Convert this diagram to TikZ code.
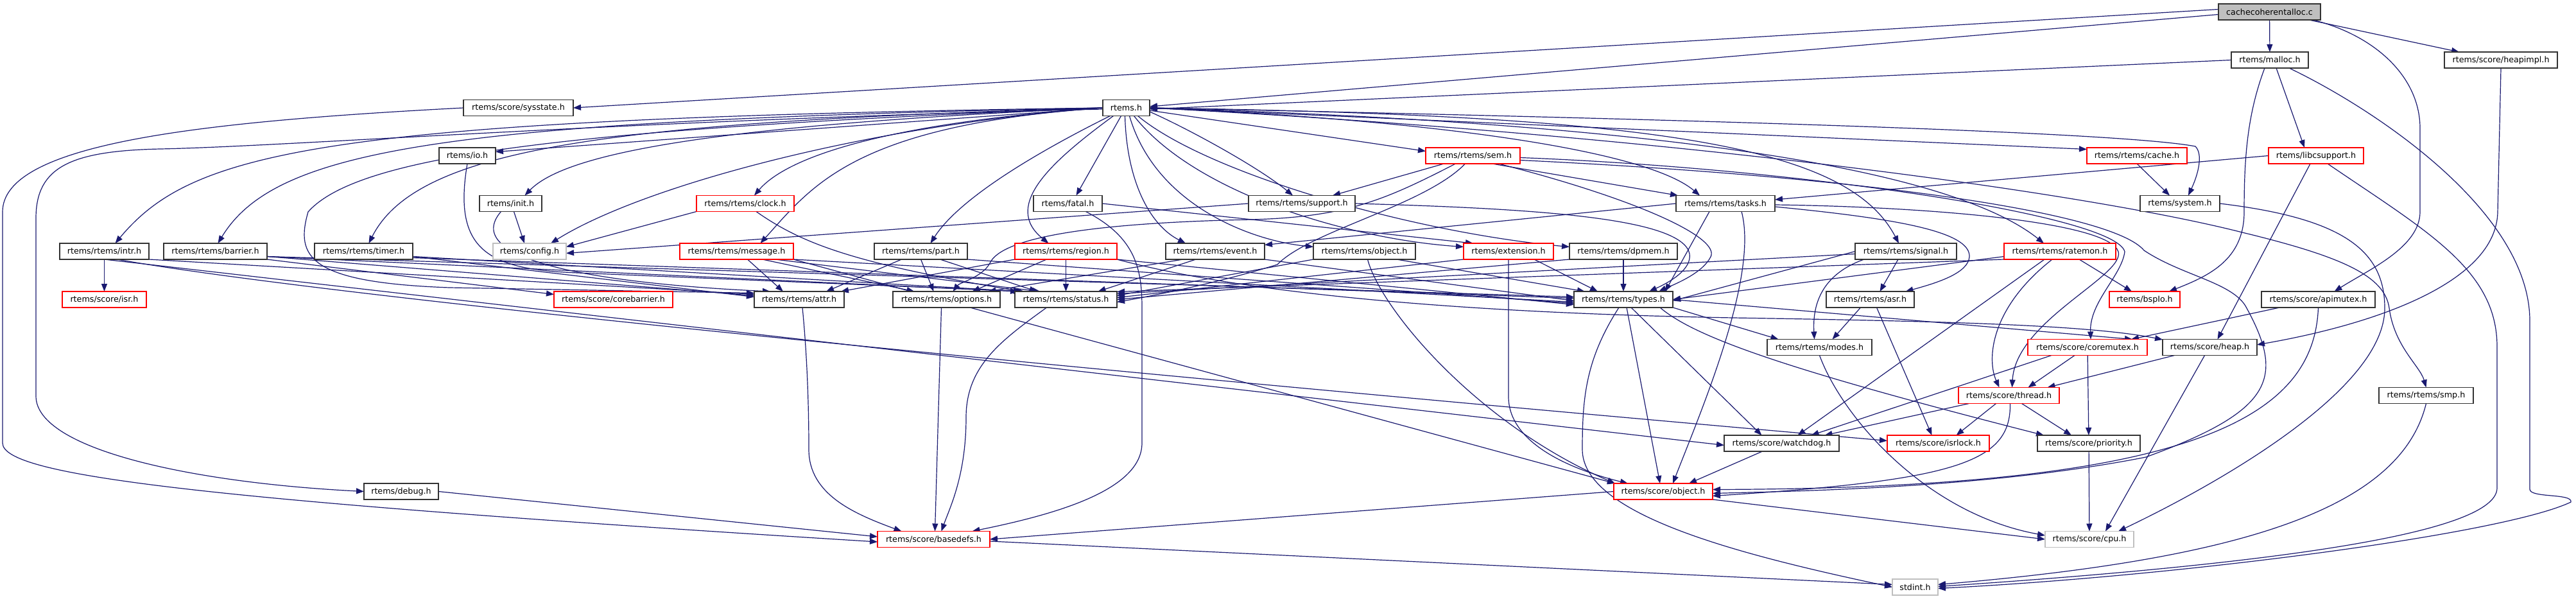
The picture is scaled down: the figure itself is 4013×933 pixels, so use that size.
\documentclass[tikz,border=0pt]{standalone}
\usepackage{fontspec}
\setmainfont{DejaVu Sans}
\usetikzlibrary{arrows.meta}
\definecolor{edgec}{HTML}{191970}
\definecolor{gline}{HTML}{BFBFBF}
\definecolor{rline}{HTML}{FF0000}
\pgfdeclarelayer{bg}
\pgfsetlayers{bg,main}
\tikzset{
  nb/.style={draw=black!80, line width=1.3pt, fill=white, minimum height=25pt, inner sep=0pt, outer sep=0pt, font=\fontsize{12.7pt}{15pt}\selectfont},
  rb/.style={nb, draw=rline},
  gb/.style={nb, draw=gline},
  edg/.style={draw=edgec, line width=1.2pt, -{Triangle[length=12pt,width=9pt]}},
}
\begin{document}
\begin{tikzpicture}[x=1pt,y=-1pt]
\useasboundingbox (0,0) rectangle (4013,933);
% row 0-2
\node[nb, minimum width=159pt, fill=gline] (cc) at (3535.5,18.5) {cachecoherentalloc.c};
\node[nb, minimum width=120pt] (malloc) at (3536,93.5) {rtems/malloc.h};
\node[nb, minimum width=176pt] (heapimpl) at (3896,93.5) {rtems/score/heapimpl.h};
\node[nb, minimum width=171pt] (sysstate) at (807.5,168) {rtems/score/sysstate.h};
\node[nb, minimum width=73pt] (rtemsh) at (1754.5,168) {rtems.h};
% row 3
\node[nb, minimum width=88pt] (io) at (728,242.5) {rtems/io.h};
\node[rb, minimum width=147pt] (sem) at (2294.5,242.5) {rtems/rtems/sem.h};
\node[rb, minimum width=156pt] (cache) at (3329,242.5) {rtems/rtems/cache.h};
\node[rb, minimum width=148pt] (libc) at (3608,242.5) {rtems/libcsupport.h};
% row 4
\node[nb, minimum width=97pt] (init) at (795.5,317) {rtems/init.h};
\node[rb, minimum width=152pt] (clock) at (1161,317) {rtems/rtems/clock.h};
\node[nb, minimum width=107pt] (fatal) at (1663.5,317) {rtems/fatal.h};
\node[nb, minimum width=166pt] (support) at (2028,317) {rtems/rtems/support.h};
\node[nb, minimum width=154pt] (tasks) at (2688,317) {rtems/rtems/tasks.h};
\node[nb, minimum width=124pt] (system) at (3396,317) {rtems/system.h};
% row 5
\node[nb, minimum width=139pt] (intr) at (162.5,391.5) {rtems/rtems/intr.h};
\node[nb, minimum width=161pt] (barrier) at (335.5,391.5) {rtems/rtems/barrier.h};
\node[nb, minimum width=153pt] (timer) at (566.5,391.5) {rtems/rtems/timer.h};
\node[gb, minimum width=114pt] (config) at (825,391.5) {rtems/config.h};
\node[rb, minimum width=177pt] (message) at (1147.5,391.5) {rtems/rtems/message.h};
\node[nb, minimum width=145pt] (part) at (1434.5,391.5) {rtems/rtems/part.h};
\node[rb, minimum width=159pt] (region) at (1660.5,391.5) {rtems/rtems/region.h};
\node[nb, minimum width=154pt] (event) at (1893,391.5) {rtems/rtems/event.h};
\node[nb, minimum width=159pt] (robject) at (2125.5,391.5) {rtems/rtems/object.h};
\node[rb, minimum width=140pt] (extension) at (2350,391.5) {rtems/extension.h};
\node[nb, minimum width=168pt] (dpmem) at (2529,391.5) {rtems/rtems/dpmem.h};
\node[nb, minimum width=158pt] (signal) at (2969,391.5) {rtems/rtems/signal.h};
\node[rb, minimum width=174pt] (ratemon) at (3209,391.5) {rtems/rtems/ratemon.h};
% row 6
\node[rb, minimum width=131pt] (isr) at (162.5,466.5) {rtems/score/isr.h};
\node[rb, minimum width=185pt] (corebarrier) at (955.5,466.5) {rtems/score/corebarrier.h};
\node[nb, minimum width=140pt] (attr) at (1245,466.5) {rtems/rtems/attr.h};
\node[nb, minimum width=167pt] (options) at (1474.5,466.5) {rtems/rtems/options.h};
\node[nb, minimum width=159pt] (status) at (1660.5,466.5) {rtems/rtems/status.h};
\node[nb, minimum width=154pt] (types) at (2529,466.5) {rtems/rtems/types.h};
\node[nb, minimum width=137pt] (asr) at (2913.5,466.5) {rtems/rtems/asr.h};
\node[rb, minimum width=110pt] (bspio) at (3341,466.5) {rtems/bspIo.h};
\node[nb, minimum width=177pt] (apimutex) at (3611.5,466.5) {rtems/score/apimutex.h};
% row 7-12
\node[nb, minimum width=163pt] (modes) at (2834.5,541) {rtems/rtems/modes.h};
\node[rb, minimum width=186pt] (coremutex) at (3252,541) {rtems/score/coremutex.h};
\node[nb, minimum width=147pt] (heap) at (3442.5,541) {rtems/score/heap.h};
\node[rb, minimum width=157pt] (thread) at (3129.5,616) {rtems/score/thread.h};
\node[nb, minimum width=147pt] (smp) at (3779.5,616) {rtems/rtems/smp.h};
\node[nb, minimum width=179pt] (watchdog) at (2775.5,690.5) {rtems/score/watchdog.h};
\node[rb, minimum width=159pt] (isrlock) at (3019.5,690.5) {rtems/score/isrlock.h};
\node[nb, minimum width=160pt] (priority) at (3254,690.5) {rtems/score/priority.h};
\node[nb, minimum width=116pt] (debug) at (625,765.5) {rtems/debug.h};
\node[rb, minimum width=154pt] (sobject) at (2591,765.5) {rtems/score/object.h};
\node[rb, minimum width=175pt] (basedefs) at (1454.5,840) {rtems/score/basedefs.h};
\node[gb, minimum width=138pt] (cpu) at (3255,840) {rtems/score/cpu.h};
\node[gb, minimum width=71pt] (stdint) at (2983.5,914.5) {stdint.h};

\begin{pgfonlayer}{bg}
\fill[white] (0,0) rectangle (4013,933);
% cachecoherentalloc.c
\draw[edg] ([yshift=4pt]cc.west) -- (sysstate.east);
\draw[edg] ([yshift=-4pt]cc.west) -- ([yshift=2pt]rtemsh.east);
\draw[edg] (cc) -- (malloc);
\draw[edg] ([xshift=-18pt]cc.south east) -- ([xshift=-65pt]heapimpl.north);
\draw[edg] ([xshift=-12pt]cc.south east) .. controls (3700,55) and (3770,120) .. (3770,200) -- (3770,330) .. controls (3770,385) and (3690,420) .. ([xshift=25pt]apimutex.north);
% malloc
\draw[edg] (malloc.west) -- ([yshift=-2pt]rtemsh.east);
\draw[edg] ([xshift=-8pt]malloc.south) .. controls (3500,180) and (3496,250) .. (3496,330) .. controls (3496,405) and (3440,430) .. ([xshift=38pt]bspio.north);
\draw[edg] ([xshift=10pt]malloc.south) -- ([xshift=-18pt]libc.north);
\draw[edg] ([xshift=30pt]malloc.south) .. controls (3700,170) and (3941,330) .. (3941,500) -- (3941,762) .. controls (3941,776) and (4008,768) .. (4005,782) .. controls (3900,832) and (3400,897) .. ([yshift=-2pt]stdint.east);
% heapimpl
\draw[edg] (heapimpl.south) -- (3891,330) .. controls (3889,440) and (3700,505) .. ([yshift=4pt]heap.east);
% libcsupport
\draw[edg] (libc.west) -- ([yshift=6pt]tasks.east);
\draw[edg] ([xshift=-9pt]libc.south) -- ([xshift=12pt]heap.north);
\draw[edg] ([xshift=18pt]libc.south) .. controls (3780,360) and (3890,420) .. (3890,540) -- (3890,760) .. controls (3890,830) and (3550,878) .. ([yshift=1pt]stdint.east);
% sysstate
\draw[edg] (sysstate.west) .. controls (300,190) and (4,225) .. (4,330) -- (4,690) .. controls (4,740) and (300,778) .. ([yshift=-4pt]basedefs.west);
% rtems.h
\draw[edg] ([yshift=-2pt]rtemsh.west) .. controls (1000,186) and (450,228) .. (250,232) .. controls (110,235) and (56,260) .. (56,340) -- (56,617) .. controls (56,700) and (300,752) .. (debug.west);
\draw[edg] (rtemsh.west) .. controls (500,185) and (300,235) .. ([xshift=17pt]intr.north);
\draw[edg] (rtemsh.west) .. controls (700,188) and (430,230) .. ([xshift=4pt]barrier.north);
\draw[edg] (rtemsh.west) .. controls (950,190) and (650,230) .. ([xshift=8pt]timer.north);
\draw[edg] (rtemsh.west) .. controls (900,200) and (560,240) .. (480,330) .. controls (460,400) and (480,440) .. (700,448) -- ([yshift=10pt]attr.west);
\draw[edg] (rtemsh.west) -- ([yshift=6pt]io.east);
\draw[edg] (rtemsh.west) .. controls (1100,195) and (880,240) .. ([xshift=22pt]init.north);
\draw[edg] (rtemsh.west) .. controls (1350,195) and (1000,290) .. ([xshift=33pt]config.north);
\draw[edg] (rtemsh.west) .. controls (1400,190) and (1230,240) .. ([xshift=14pt]clock.north);
\draw[edg] (rtemsh.west) .. controls (1330,195) and (1265,290) .. ([xshift=37pt]message.north);
\draw[edg] ([xshift=-25pt]rtemsh.south) .. controls (1650,220) and (1500,300) .. ([xshift=15pt]part.north);
\draw[edg] ([xshift=-20pt]rtemsh.south) .. controls (1640,250) and (1560,320) .. ([xshift=-27pt]region.north);
\draw[edg] ([xshift=-8pt]rtemsh.south) -- ([xshift=13pt]fatal.north);
\draw[edg] ([xshift=-2pt]rtemsh.south) .. controls (1755,280) and (1790,350) .. ([xshift=-46pt]event.north);
\draw[edg] ([xshift=5pt]rtemsh.south) .. controls (1800,320) and (1950,375) .. ([yshift=7pt]robject.west);
\draw[edg] ([xshift=12pt]rtemsh.south) .. controls (1860,300) and (2100,372) .. ([yshift=7pt]extension.west);
\draw[edg] ([xshift=18pt]rtemsh.south) .. controls (1880,270) and (2200,362) .. ([yshift=7pt]dpmem.west);
\draw[edg] ([yshift=-6pt]rtemsh.east) .. controls (1850,200) and (1960,260) .. ([xshift=-14pt]support.north);
\draw[edg] ([yshift=-4pt]rtemsh.east) -- ([yshift=7pt]sem.west);
\draw[edg] (rtemsh.east) .. controls (2200,185) and (2560,230) .. ([xshift=-40pt]tasks.north);
\draw[edg] (rtemsh.east) .. controls (2600,180) and (2880,230) .. ([xshift=-11pt]signal.north);
\draw[edg] (rtemsh.east) .. controls (2700,195) and (3060,280) .. ([xshift=-25pt]ratemon.north);
\draw[edg] (rtemsh.east) -- ([yshift=10pt]cache.west);
\draw[edg] (rtemsh.east) .. controls (2600,185) and (3300,205) .. (3420,228) .. controls (3432,240) and (3425,270) .. ([xshift=13pt]system.north);
\draw[edg] (rtemsh.east) .. controls (2600,210) and (3250,300) .. (3493,362) .. controls (3650,400) and (3715,430) .. (3722,480) .. controls (3730,540) and (3770,570) .. (smp.north);
% cache, system
\draw[edg] (cache.south) -- ([xshift=-16pt]system.north);
\draw[edg] (system.east) .. controls (3650,340) and (3715,390) .. (3715,480) .. controls (3715,620) and (3400,780) .. ([xshift=45pt]cpu.north);
% fatal
\draw[edg] ([xshift=28pt]fatal.south) .. controls (1770,370) and (1779,420) .. (1779,480) -- (1779,690) .. controls (1779,762) and (1650,800) .. ([xshift=60pt]basedefs.north);
\draw[edg] (fatal.east) -- ([xshift=15pt]extension.north west);
% intr
\draw[edg] (intr) -- (isr);
\draw[edg] (intr.south east) -- ([yshift=8pt]attr.west);
\draw[edg] (intr.south) -- ([yshift=-3pt]watchdog.west);
\draw[edg] ([xshift=20pt]intr.south) .. controls (500,460) and (1500,560) .. ([yshift=4pt]isrlock.west);
% barrier
\draw[edg] (barrier.south east) -- ([yshift=8pt]corebarrier.west);
\draw[edg] ([yshift=-8pt]barrier.east) -- ([yshift=6pt]attr.west);
\draw[edg] ([yshift=-8pt]barrier.east) -- ([xshift=5pt]status.north west);
\draw[edg] ([yshift=-8pt]barrier.east) -- ([yshift=4pt]types.west);
% timer
\draw[edg] ([yshift=-8pt]timer.east) -- ([yshift=4pt]attr.west);
\draw[edg] ([yshift=-8pt]timer.east) -- ([xshift=10pt]status.north west);
\draw[edg] ([yshift=-10pt]timer.east) -- ([yshift=2pt]types.west);
% message
\draw[edg] ([xshift=17pt]message.south) -- ([xshift=-25pt]attr.north);
\draw[edg] ([xshift=40pt]message.south) -- ([xshift=-50pt]options.north);
\draw[edg] ([xshift=60pt]message.south) -- ([xshift=-40pt]status.north);
\draw[edg] (message.south east) -- ([yshift=-4pt]types.west);
\draw[edg] (message.south east) -- ([xshift=-75pt]sobject.north);
% part
\draw[edg] ([xshift=-30pt]part.south) -- ([xshift=42pt]attr.north);
\draw[edg] (part.south) -- ([xshift=-20pt]options.north);
\draw[edg] ([xshift=30pt]part.south) -- ([xshift=-45pt]status.north);
\draw[edg] (part.south east) -- ([yshift=-6pt]types.west);
% region
\draw[edg] (region.south west) -- ([xshift=-5pt]attr.north east);
\draw[edg] ([xshift=-30pt]region.south) -- ([xshift=40pt]options.north);
\draw[edg] (region) -- (status);
\draw[edg] (region.south east) -- ([yshift=-8pt]types.west);
\draw[edg] (region.south east) .. controls (1950,460) and (2300,488) .. (2700,495) .. controls (3000,500) and (3250,505) .. ([yshift=12pt]heap.west);
% event
\draw[edg] ([xshift=-50pt]event.south) -- ([xshift=65pt]options.north);
\draw[edg] ([xshift=-30pt]event.south) -- ([xshift=50pt]status.north);
\draw[edg] (event.south east) -- ([yshift=-2pt]types.west);
% rtems object
\draw[edg] (robject.south west) -- ([yshift=6pt]status.east);
\draw[edg] ([xshift=50pt]robject.south) -- ([xshift=-60pt]types.north);
\draw[edg] ([xshift=5pt]robject.south) .. controls (2150,480) and (2300,660) .. ([xshift=-75pt]sobject.north);
% extension
\draw[edg] (extension.south west) -- ([yshift=3pt]status.east);
\draw[edg] ([xshift=40pt]extension.south) -- ([xshift=-40pt]types.north);
\draw[edg] (extension.south) -- (2350,620) .. controls (2352,692) and (2450,732) .. ([xshift=-55pt]sobject.north);
% dpmem
\draw[edg] (dpmem) -- (types);
\draw[edg] (dpmem.south west) -- (status.east);
% signal
\draw[edg] ([xshift=-12pt]signal.south) -- ([xshift=15pt]asr.north);
\draw[edg] ([xshift=-65pt]signal.south) .. controls (2830,430) and (2824,485) .. ([xshift=-8pt]modes.north);
\draw[edg] (signal.west) -- ([yshift=-2pt]types.east);
\draw[edg] ([yshift=-4pt]signal.west) -- ([yshift=9pt]status.east);
% ratemon
\draw[edg] ([xshift=30pt]ratemon.south) -- ([xshift=-20pt]bspio.north);
\draw[edg] ([yshift=-8pt]ratemon.west) -- (types.east);
\draw[edg] (ratemon.south west) -- ([yshift=12pt]status.east);
\draw[edg] ([xshift=-24pt]ratemon.south) -- ([xshift=25pt]watchdog.north);
\draw[edg] ([xshift=-12pt]ratemon.south) .. controls (3100,480) and (3095,560) .. ([xshift=-15pt]thread.north);
% clock, init, io, support
\draw[edg] (clock.south west) -- ([yshift=7pt]config.east);
\draw[edg] ([xshift=17pt]clock.south) .. controls (1250,380) and (1330,410) .. ([xshift=10pt]status.north west);
\draw[edg] ([xshift=5pt]init.south) -- ([xshift=-8pt]config.north);
\draw[edg] ([xshift=-15pt]init.south) .. controls (720,400) and (900,440) .. ([xshift=-45pt]attr.north);
\draw[edg] (io.south) .. controls (705,390) and (760,420) .. (900,425) -- ([xshift=15pt]status.north west);
\draw[edg] (support.west) -- ([yshift=-3pt]config.east);
\draw[edg] (support.east) .. controls (2400,325) and (2620,340) .. (2632,395) .. controls (2636,420) and (2600,440) .. ([xshift=40pt]types.north);
% sem
\draw[edg] ([xshift=-45pt]sem.south) -- ([xshift=48pt]support.north);
\draw[edg] ([xshift=-27pt]sem.south) .. controls (2160,310) and (2100,338) .. (1950,342) .. controls (1700,347) and (1560,370) .. (1542,410) .. controls (1530,432) and (1495,440) .. ([xshift=10pt]options.north);
\draw[edg] ([xshift=-12pt]sem.south) .. controls (2220,320) and (2040,360) .. (1990,412) .. controls (1900,440) and (1800,460) .. ([yshift=-4pt]status.east);
\draw[edg] ([xshift=30pt]sem.south) -- ([xshift=-74pt]tasks.north);
\draw[edg] ([xshift=40pt]sem.south) .. controls (2550,310) and (2680,370) .. (2665,400) .. controls (2652,425) and (2615,440) .. ([xshift=55pt]types.north);
\draw[edg] ([yshift=-3pt]sem.east) .. controls (2800,262) and (3295,335) .. (3310,392) .. controls (3305,430) and (3255,470) .. ([xshift=5pt]coremutex.north);
\draw[edg] ([yshift=-7pt]sem.east) .. controls (2900,275) and (3290,330) .. (3340,390) .. controls (3400,430) and (3480,440) .. (3500,480) .. controls (3560,590) and (3540,640) .. (3343,712) .. controls (3100,760) and (2800,765) .. ([yshift=-3pt]sobject.east);
% tasks
\draw[edg] (tasks.west) -- ([yshift=10pt]event.east);
\draw[edg] ([yshift=-5pt]tasks.east) .. controls (2950,340) and (3070,360) .. (3068,400) .. controls (3066,425) and (3020,440) .. ([xshift=55pt]asr.north);
\draw[edg] ([xshift=-25pt]tasks.south) -- ([xshift=65pt]types.north);
\draw[edg] ([yshift=-2pt]tasks.east) .. controls (3000,322) and (3285,345) .. (3300,392) .. controls (3310,430) and (3140,500) .. ([xshift=5pt]thread.north);
\draw[edg] ([xshift=25pt]tasks.south) .. controls (2740,430) and (2650,640) .. ([xshift=15pt]sobject.north);
% row 6 and below
\draw[edg] ([xshift=5pt]attr.south) .. controls (1258,560) and (1260,640) .. (1260,700) .. controls (1260,770) and (1330,800) .. ([xshift=-50pt]basedefs.north);
\draw[edg] ([xshift=-8pt]options.south) -- ([xshift=2pt]basedefs.north);
\draw[edg] ([xshift=-30pt]status.south) .. controls (1560,530) and (1505,570) .. (1505,650) .. controls (1505,740) and (1480,790) .. ([xshift=12pt]basedefs.north);
\draw[edg] ([xshift=5pt]types.south) -- ([xshift=-5pt]sobject.north);
\draw[edg] (types.south east) -- ([xshift=-64pt]modes.north);
\draw[edg] ([xshift=-20pt]types.south east) .. controls (2640,525) and (2780,575) .. ([xshift=-70pt]priority.north);
\draw[edg] ([xshift=12pt]types.south) -- ([xshift=-31pt]watchdog.north);
\draw[edg] (types.east) -- ([xshift=70pt]coremutex.north);
\draw[edg] ([xshift=-7pt]types.south) .. controls (2470,560) and (2465,620) .. (2465,700) .. controls (2465,800) and (2700,862) .. (stdint.west);
\draw[edg] ([xshift=-15pt]asr.south) -- ([xshift=20pt]modes.north);
\draw[edg] ([xshift=10pt]asr.south) -- ([xshift=-10pt]isrlock.north);
\draw[edg] ([xshift=-60pt]apimutex.south) -- ([xshift=68pt]coremutex.north);
\draw[edg] (apimutex.south) .. controls (3605,650) and (3420,760) .. ([yshift=3pt]sobject.east);
\draw[edg] (modes.south) .. controls (2870,650) and (3000,800) .. ([yshift=6pt]cpu.west);
\draw[edg] ([xshift=-20pt]coremutex.south) -- ([xshift=30pt]thread.north);
\draw[edg] ([xshift=-56pt]coremutex.south) -- ([xshift=46pt]watchdog.north);
\draw[edg] (coremutex) -- (priority);
\draw[edg] ([xshift=-55pt]heap.south) -- ([xshift=60pt]thread.north);
\draw[edg] ([xshift=-8pt]heap.south) -- ([xshift=25pt]cpu.north);
\draw[edg] ([xshift=-20pt]thread.south) -- ([xshift=28pt]isrlock.north);
\draw[edg] ([xshift=20pt]thread.south) -- ([xshift=-27pt]priority.north);
\draw[edg] ([xshift=-62pt]thread.south) -- ([xshift=67pt]watchdog.north);
\draw[edg] ([xshift=2pt]thread.south) .. controls (3133,720) and (3050,748) .. ([yshift=-7pt]sobject.east);
\draw[edg] ([xshift=-30pt]watchdog.south) -- ([xshift=40pt]sobject.north);
\draw[edg] (priority) -- (cpu);
\draw[edg] (smp.south) .. controls (3740,790) and (3500,870) .. ([yshift=4pt]stdint.east);
\draw[edg] (sobject.west) -- (basedefs.east);
\draw[edg] (sobject.south east) -- (cpu.west);
\draw[edg] (debug.east) -- ([yshift=4pt]basedefs.west);
\draw[edg] ([yshift=-3pt]basedefs.east) -- ([yshift=4pt]stdint.west);
\end{pgfonlayer}
\end{tikzpicture}
\end{document}
